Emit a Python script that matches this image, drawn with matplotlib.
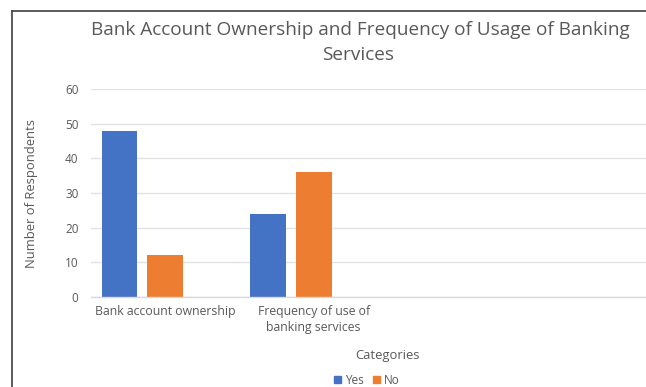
import matplotlib
matplotlib.use("Agg")
import matplotlib.pyplot as plt
from matplotlib.lines import Line2D
from matplotlib.patches import Patch
import numpy as np

categories = ["Bank account ownership", "Frequency of use of\nbanking services"]
series_names = ["Yes", "No"]
yes_values = [48, 24]
no_values = [12, 36]
y_ticks = [0, 10, 20, 30, 40, 50, 60]

BLUE = "#4472C4"
ORANGE = "#ED7D31"
GRAY = "#595959"
FONT = "Open Sans"

W, H = 646, 387
fig = plt.figure(figsize=(W / 100, H / 100), dpi=100)
plt.rcParams['font.family'] = [FONT, 'DejaVu Sans']

def fx(px):
    return px / W

def fy(py):
    return 1 - py / H

left_px, right_px = 91, 91 + 148.5 * 4
top_px, bottom_px = 89, 297
ax = fig.add_axes([fx(left_px), fy(bottom_px), fx(right_px - left_px), (bottom_px - top_px) / H])

x = np.arange(len(categories))
bw = 0.24
slot = 0.308
ax.bar(x - slot, yes_values, width=bw, color=BLUE, zorder=3, label=series_names[0])
ax.bar(x, no_values, width=bw, color=ORANGE, zorder=3, label=series_names[1])

ax.set_xlim(-0.5, 3.5)
ax.set_ylim(0, 60)
ax.set_yticks(y_ticks)
ax.set_xticks(x)
ax.set_xticklabels(categories, fontsize=8.8, color=GRAY, linespacing=1.3)
ax.tick_params(axis='both', length=0, labelcolor=GRAY)
ax.tick_params(axis='y', labelsize=8.5, pad=9)
ax.tick_params(axis='x', labelsize=8.8, pad=6)
ax.grid(axis='y', color="#E3E3E3", linewidth=1, zorder=0)
for s in ["top", "right", "left"]:
    ax.spines[s].set_visible(False)
ax.spines["bottom"].set_color("#D9D9D9")
ax.spines["bottom"].set_linewidth(1)
ax.spines["bottom"].set_zorder(4)

ax.set_ylabel("Number of Respondents", fontsize=9.4, color=GRAY)
ax.yaxis.set_label_coords((38 - left_px) / (right_px - left_px), 0.5)

fig.text(fx(360), fy(30), "Bank Account Ownership and Frequency of Usage of Banking",
         ha="center", va="center", fontsize=13.7, color=GRAY)
fig.text(fx(358), fy(55), "Services", ha="center", va="center", fontsize=13.7, color=GRAY)
fig.text(fx(387), fy(355), "Categories", ha="center", va="center", fontsize=9.4, color=GRAY)

handles = [Patch(color=BLUE), Patch(color=ORANGE)]
leg = fig.legend(handles, series_names, loc="center", bbox_to_anchor=(fx(367), fy(380)),
                 ncol=2, frameon=False, fontsize=8.5, handlelength=0.6, handleheight=0.6,
                 handletextpad=0.3, columnspacing=0.8, labelcolor=GRAY)

# chart frame (left and top borders)
fig.add_artist(Line2D([fx(12), fx(12)], [fy(11), 0], color="#404040", linewidth=1.2))
fig.add_artist(Line2D([fx(12), 1], [fy(11), fy(11)], color="#404040", linewidth=1.2))

fig.savefig("out.png", dpi=100)
